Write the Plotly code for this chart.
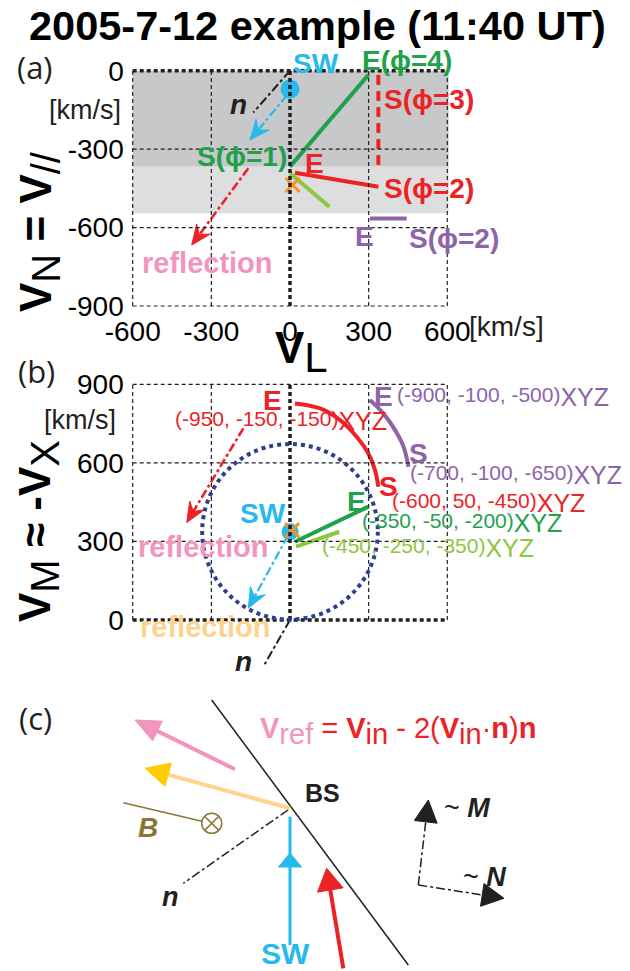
import math
import plotly.graph_objects as go

FIG_W, FIG_H = 630, 971
FONT = "Liberation Sans, Arial, Helvetica, sans-serif"
LBL_FONT = "Open Sans, Liberation Sans, sans-serif"

# ---------------- data ----------------
L_ticks = [-600, -300, 0, 300, 600]
N_ticks = [0, -300, -600, -900]
M_ticks = [0, 300, 600, 900]
L_grid = [-300, 300]
N_grid = [-300, -600]
M_grid = [300, 600]

# panel (a): V_L (x) vs V_N (y)
a_sw = [0, -70]
a_n_L = [0, -140]; a_n_N = [0, -160]
a_swref_L = [-11, -153]; a_swref_N = [-93, -265]
a_refl_L = [-159, -375]; a_refl_N = [-373, -667]
a_green_L = [0, 299]; a_green_N = [-367, -16]
a_red_L = [19, 337]; a_red_N = [-390, -444]
a_reddash_L = [337, 337]; a_reddash_N = [-16, -367]
a_yg_L = [0, 150]; a_yg_N = [-392, -520]
a_purple_L = [305, 445]; a_purple_N = [-565, -565]
a_cross = [10, -437]
a_dark_band = [0, -367]
a_light_band = [-367, -545]

# panel (b): V_L (x) vs V_M (y)
b_sw = [0, 337]
b_circle_r = 335
b_cross = [8, 343]
b_n_L = [0, -102]; b_n_M = [0, -178]
b_swref_L = [-8, -159]; b_swref_M = [322, 45]
b_refl_L = [-178, -394]; b_refl_M = [732, 372]
b_green_L = [19, 299]; b_green_M = [299, 433]
b_yg_L = [23, 188]; b_yg_M = [280, 337]
b_red_L = [19, 115, 191, 254, 299, 324, 337]
b_red_M = [827, 808, 763, 700, 636, 573, 509]
b_purple_L = [305, 356, 401, 433, 452]
b_purple_M = [840, 789, 725, 662, 585]

# panel (c): schematic (pixel-like units, y downward)
c_bs_x = [211.7, 408.3]; c_bs_y = [700, 965]
c_pink_x = [235, 135]; c_pink_y = [769.3, 720]
c_gold_x = [290, 145]; c_gold_y = [808.3, 768.3]
c_B_x = [123.3, 202]; c_B_y = [802.7, 821.3]
c_Bcirc = [211.7, 823.3]
c_n_x = [288, 183.3]; c_n_y = [810, 883.3]
c_sw_x = [290, 290]; c_sw_y = [945, 816.7]
c_sw_head = [290, 853]
c_red_x = [343.3, 326.7]; c_red_y = [968.3, 868.3]
c_corner = [418.3, 885]
c_M_tip = [428.3, 800]
c_N_tip = [504, 898.3]

# colours
CYAN = '#27B9EE'; GREEN = '#21A24A'; RED = '#EC2227'; YG = '#8DC63F'
ORANGE = '#F7931E'; PURPLE = '#8E63A8'; PINK = '#F195BE'; PALE = '#FDD28C'
NAVY = '#2E3F92'; DARK_GRAY = '#C7C8CA'; LIGHT_GRAY = '#DDDEDF'
OLIVE = '#8B7535'; GOLD = '#FFCB05'; GOLD_LINE = '#FFD58C'; BLACK = '#231F20'

# ---------------- geometry helpers ----------------
PX = 0.2622  # pixels per km/s in panels (a),(b)


def dom_x(px_a, va, px_b, vb, lo, hi):
    s = (px_b - px_a) / (vb - va)
    return [(px_a + (lo - va) * s) / FIG_W, (px_a + (hi - va) * s) / FIG_W]


def dom_y(py_a, va, py_b, vb, lo, hi):
    s = (py_b - py_a) / (vb - va)
    return [1 - (py_a + (lo - va) * s) / FIG_H, 1 - (py_a + (hi - va) * s) / FIG_H]


def head(tail, tip, L, Wd, notch=0.0):
    dx, dy = tip[0] - tail[0], tip[1] - tail[1]
    d = math.hypot(dx, dy)
    ux, uy = dx / d, dy / d
    vx, vy = -uy, ux
    bx, by = tip[0] - L * ux, tip[1] - L * uy
    nx, ny = tip[0] - (1 - notch) * L * ux, tip[1] - (1 - notch) * L * uy
    xs = [tip[0], bx + Wd * vx, nx, bx - Wd * vx, tip[0]]
    ys = [tip[1], by + Wd * vy, ny, by - Wd * vy, tip[1]]
    return xs, ys


fig = go.Figure()


def line(xs, ys, color, width, dash='solid', ax='', shape='linear'):
    fig.add_trace(go.Scatter(x=xs, y=ys, mode='lines', xaxis='x' + ax, yaxis='y' + ax,
                             line=dict(color=color, width=width, dash=dash, shape=shape),
                             hoverinfo='skip', showlegend=False))


def poly(xs, ys, color, ax=''):
    fig.add_trace(go.Scatter(x=xs, y=ys, mode='lines', fill='toself', fillcolor=color,
                             xaxis='x' + ax, yaxis='y' + ax, line=dict(color=color, width=1),
                             hoverinfo='skip', showlegend=False))


def marker(x, y, symbol, size, color, ax='', lw=0, lcolor=None):
    fig.add_trace(go.Scatter(x=[x], y=[y], mode='markers', xaxis='x' + ax, yaxis='y' + ax,
                             marker=dict(symbol=symbol, size=size, color=color,
                                         line=dict(width=lw, color=lcolor or color)),
                             hoverinfo='skip', showlegend=False, cliponaxis=False))


def arrow_dd(xs, ys, color, width, ax, dash='dashdot', L=20, Wd=8.5):
    tip = (xs[-1], ys[-1]); tail = (xs[0], ys[0])
    Lu, Wu = L / PX, Wd / PX
    dx, dy = tip[0] - tail[0], tip[1] - tail[1]
    d = math.hypot(dx, dy)
    line([tail[0], tip[0] - 0.6 * Lu * dx / d], [tail[1], tip[1] - 0.6 * Lu * dy / d], color, width, dash, ax)
    hx, hy = head(tail, tip, Lu, Wu, notch=0.35)
    poly(hx, hy, color, ax)


def arrow_solid(xs, ys, color, width, hcolor, L, Wd, ax='3'):
    tail = (xs[0], ys[0]); tip = (xs[1], ys[1])
    dx, dy = tip[0] - tail[0], tip[1] - tail[1]
    d = math.hypot(dx, dy)
    line([tail[0], tip[0] - 0.8 * L * dx / d], [tail[1], tip[1] - 0.8 * L * dy / d], color, width, ax=ax)
    hx, hy = head(tail, tip, L, Wd)
    poly(hx, hy, hcolor, ax)


annotations = []
shapes = []


def ann(x, y, text, size, color, ref='', bold=True, italic=False, xa='center', ya='middle',
        family=FONT, angle=0):
    t = text
    if bold:
        t = '<b>' + t + '</b>'
    if italic:
        t = '<i>' + t + '</i>'
    if ref == 'paper':
        xr, yr = 'paper', 'paper'
        x, y = x / FIG_W, 1 - y / FIG_H
    else:
        xr, yr = 'x' + ref, 'y' + ref
    annotations.append(dict(x=x, y=y, xref=xr, yref=yr, text=t, showarrow=False,
                            xanchor=xa, yanchor=ya, textangle=angle,
                            font=dict(size=size, color=color, family=family)))


def seg(ax, x0, y0, x1, y1, color, width, dash):
    shapes.append(dict(type='line', xref='x' + ax, yref='y' + ax, x0=x0, y0=y0, x1=x1, y1=y1,
                       line=dict(color=color, width=width, dash=dash), layer='above'))


THIN = dict(color=BLACK, width=1.2, dash='4px,3px')
THICK = dict(color=BLACK, width=3.5, dash='4px,3px')

# ---------------- panel (a) ----------------
for (y0, y1), col in ((a_dark_band, DARK_GRAY), (a_light_band, LIGHT_GRAY)):
    shapes.append(dict(type='rect', xref='x', yref='y', x0=L_ticks[0], x1=L_ticks[-1] + 5,
                       y0=y0, y1=y1, fillcolor=col, line=dict(width=0), layer='below'))
for g in L_grid + [L_ticks[0], L_ticks[-1]]:
    seg('', g, N_ticks[-1], g, N_ticks[0], **THIN)
for g in N_grid + [N_ticks[-1]]:
    seg('', L_ticks[0], g, L_ticks[-1], g, **THIN)
seg('', L_ticks[0], 0, L_ticks[-1], 0, **THICK)
seg('', 0, N_ticks[-1], 0, N_ticks[0], **THICK)

line(a_n_L, a_n_N, BLACK, 2, 'dashdot')
arrow_dd(a_swref_L, a_swref_N, CYAN, 2.2, '')
arrow_dd(a_refl_L, a_refl_N, RED, 2.6, '')
line(a_green_L, a_green_N, GREEN, 4)
line(a_yg_L, a_yg_N, YG, 4)
line(a_red_L, a_red_N, RED, 4)
line(a_reddash_L, a_reddash_N, RED, 4, '10px,6px')
line(a_purple_L, a_purple_N, PURPLE, 4)
marker(a_sw[0], a_sw[1], 'circle', 19, CYAN)
marker(a_cross[0], a_cross[1], 'x-thin', 14, ORANGE, '', 3, ORANGE)

# labels lying outside the plotting range are placed in page coordinates
ann(316, 63, 'SW', 28, CYAN, 'paper')
ann(407, 60, 'E(ϕ=4)', 28, GREEN, 'paper')
ann(532, -112, 'S(ϕ=3)', 28, RED)
ann(95, -354, 'E', 28, RED)
ann(532, -450, 'S(ϕ=2)', 28, RED)
ann(286, -635, 'E', 28, PURPLE)
ann(454, 238, 'S(ϕ=2)', 28, PURPLE, 'paper')
ann(-184, -329, 'S(ϕ=1)', 28, GREEN)
ann(-197, -131, 'n', 28, BLACK, italic=True)
ann(-314, -737, 'reflection', 29, PINK)

# ---------------- panel (b) ----------------
for g in L_grid + [L_ticks[0], L_ticks[-1]]:
    seg('2', g, M_ticks[0], g, M_ticks[-1], **THIN)
for g in M_grid + [M_ticks[-1]]:
    seg('2', L_ticks[0], g, L_ticks[-1], g, **THIN)
seg('2', L_ticks[0], 0, L_ticks[-1], 0, **THICK)
seg('2', 0, M_ticks[0], 0, M_ticks[-1], **THICK)
shapes.append(dict(type='circle', xref='x2', yref='y2', x0=b_sw[0] - b_circle_r, x1=b_sw[0] + b_circle_r,
                   y0=b_sw[1] - b_circle_r, y1=b_sw[1] + b_circle_r,
                   line=dict(color=NAVY, width=4, dash='4px,4px'), layer='above'))

line(b_n_L, b_n_M, BLACK, 2, 'dashdot', '2')
arrow_dd(b_swref_L, b_swref_M, CYAN, 2.2, '2')
arrow_dd(b_refl_L, b_refl_M, RED, 2.6, '2')
line(b_green_L, b_green_M, GREEN, 4, ax='2')
line(b_yg_L, b_yg_M, YG, 4, ax='2')
line(b_red_L, b_red_M, RED, 4, ax='2', shape='spline')
line(b_purple_L, b_purple_M, PURPLE, 4, ax='2', shape='spline')
marker(b_sw[0], b_sw[1], 'circle', 17, CYAN, '2')
marker(b_cross[0], b_cross[1], 'x-thin', 14, ORANGE, '2', 3, ORANGE)


def coord(x, y, txt, color):
    ann(x, y, txt + "<sub><span style='font-size:25px'>XYZ</span></sub>", 21, color, '2',
        bold=False, xa='left')


ann(-65, 840, 'E', 28, RED, '2')
coord(-447, 760, '(-950, -150, -150)', RED)
ann(356, 853, 'E', 28, PURPLE, '2')
coord(400, 851, '(-900, -100, -500)', PURPLE)
ann(489, 637, 'S', 28, PURPLE, '2')
coord(451, 554, '(-700, -100, -650)', PURPLE)
ann(375, 509, 'S', 28, RED, '2')
coord(381, 446, '(-600, 50, -450)', RED)
ann(254, 452, 'E', 28, GREEN, '2')
coord(267, 369, '(-350, -50, -200)', GREEN)
coord(114, 274, '(-450, -250, -350)', YG)
ann(-102, 407, 'SW', 28, CYAN, '2')
ann(-331, 280, 'reflection', 29, PINK, '2')
ann(-324, -26, 'reflection', 29, PALE, '2')
ann(-178, -159, 'n', 28, BLACK, '2', italic=True)

# ---------------- panel (c) ----------------
line(c_bs_x, c_bs_y, BLACK, 1.5, ax='3')
arrow_solid(c_pink_x, c_pink_y, PINK, 4, PINK, 25, 11)
arrow_solid(c_gold_x, c_gold_y, GOLD_LINE, 4, GOLD, 24, 12)
line(c_B_x, c_B_y, OLIVE, 1.5, ax='3')
marker(c_Bcirc[0], c_Bcirc[1], 'circle-x-open', 20, OLIVE, '3', 1.5, OLIVE)
line(c_n_x, c_n_y, BLACK, 1.5, 'dashdot', '3')
line(c_sw_x, c_sw_y, CYAN, 3, ax='3')
hx, hy = head((c_sw_x[0], c_sw_y[0]), tuple(c_sw_head), 14, 11.5)
poly(hx, hy, CYAN, '3')
arrow_solid(c_red_x, c_red_y, RED, 4, RED, 22, 13)
for tip in (c_M_tip, c_N_tip):
    dx, dy = tip[0] - c_corner[0], tip[1] - c_corner[1]
    d = math.hypot(dx, dy)
    line([c_corner[0], tip[0] - 20 * dx / d], [c_corner[1], tip[1] - 20 * dy / d], BLACK, 1.5, 'dashdot', '3')
    hx, hy = head(tuple(c_corner), tuple(tip), 22, 11.5)
    poly(hx, hy, BLACK, '3')

ann(35, 718, '(c)', 31, BLACK, 'paper', bold=False, family=LBL_FONT)
formula = (f"<span style='color:{PINK}'><b>V</b><sub><span style='font-size:29px'>ref</span></sub></span>"
           " = <b>V</b><sub><span style='font-size:29px'>in</span></sub> - 2(<b>V</b>"
           "<sub><span style='font-size:29px'>in</span></sub>·<b>n</b>)<b>n</b>")
ann(398, 731, formula, 29, RED, 'paper', bold=False)
ann(322, 793, 'BS', 25, BLACK, 'paper')
ann(148, 827, 'B', 28, OLIVE, 'paper', italic=True)
ann(170, 897, 'n', 27, BLACK, 'paper', italic=True)
ann(285, 953, 'SW', 30, CYAN, 'paper')
ann(467, 808, '~ <b><i>M</i></b>', 27, BLACK, 'paper', bold=False)
ann(484, 877, '~ <b><i>N</i></b>', 27, BLACK, 'paper', bold=False)

# ---------------- titles / labels ----------------
ann(317, 25, '2005-7-12 example (11:40 UT)', 41.5, '#000000', 'paper')
ann(35, 67, '(a)', 31, BLACK, 'paper', bold=False, family=LBL_FONT)
ann(36, 371, '(b)', 31, BLACK, 'paper', bold=False, family=LBL_FONT)
ann(85, 110, '[km/s]', 27, BLACK, 'paper', bold=False)
ann(467, 327, '[km/s]', 28, BLACK, 'paper', bold=False, xa='left')
ann(80, 420, '[km/s]', 27, BLACK, 'paper', bold=False)
ann(301, 352, "<b>V</b><sub><span style='font-size:42px'>L</span></sub>", 44, '#000000', 'paper', bold=False)
ann(40, 232, "<b>V</b><sub><span style='font-size:40px'>N</span></sub><b> = V</b>"
    "<sub><span style='font-size:40px'>//</span></sub>", 44, '#000000', 'paper', bold=False, angle=-90)
ann(38, 531, "<b>V</b><sub><span style='font-size:40px'>M</span></sub><b> ≈ -V</b>"
    "<sub><span style='font-size:40px'>X</span></sub>", 44, '#000000', 'paper', bold=False, angle=-90)

# ---------------- axes ----------------
common = dict(showgrid=False, zeroline=False, showline=False, ticks='', automargin=False,
              tickfont=dict(size=28, family=FONT, color='#000000'))
xa_dom = dom_x(132.7, -600, 447.3, 600, -615, 615)
ya_dom = dom_y(306.0, -900, 70.7, 0, -915, 15)
yb_dom = dom_y(620.0, 0, 384.3, 900, -200, 915)

fig.update_layout(
    template='none',
    width=FIG_W, height=FIG_H, margin=dict(l=0, r=0, t=0, b=0, pad=0),
    paper_bgcolor='white', plot_bgcolor='rgba(0,0,0,0)',
    xaxis=dict(domain=xa_dom, range=[-615, 615], anchor='y', tickvals=L_ticks,
               ticktext=[str(v) for v in L_ticks], ticklabelstandoff=2, **common),
    yaxis=dict(domain=ya_dom, range=[-915, 15], anchor='x', tickvals=N_ticks,
               ticktext=[str(v) for v in N_ticks], ticklabelstandoff=4, **common),
    xaxis2=dict(domain=xa_dom, range=[-615, 615], anchor='y2', showticklabels=False, **common),
    yaxis2=dict(domain=yb_dom, range=[-200, 915], anchor='x2', tickvals=M_ticks,
                ticktext=[str(v) for v in M_ticks], ticklabelstandoff=4, **common),
    xaxis3=dict(domain=[0, 1], range=[0, FIG_W], anchor='y3', visible=False, automargin=False),
    yaxis3=dict(domain=[0, 1 - 680 / FIG_H], range=[FIG_H, 680], anchor='x3', visible=False,
                automargin=False),
    annotations=annotations, shapes=shapes,
    font=dict(family=FONT),
)

fig.write_html("out.html", config={'displayModeBar': False},
               post_script="document.body.style.margin='0';document.body.style.overflow='hidden';")
